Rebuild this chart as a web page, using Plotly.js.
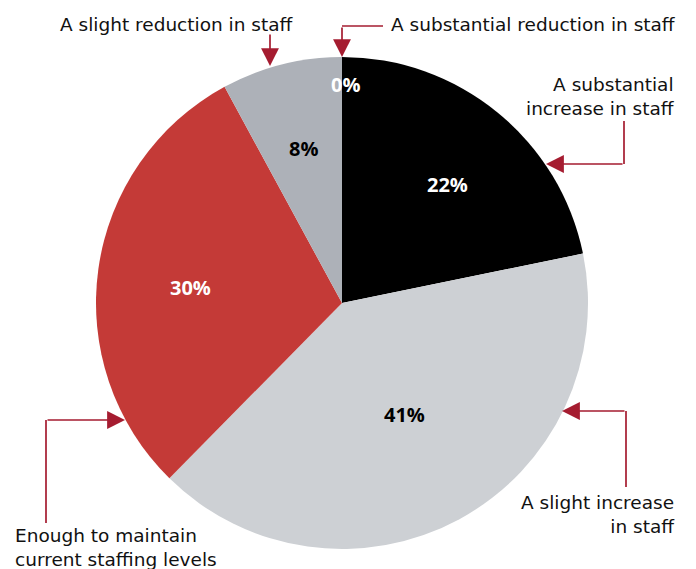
<!DOCTYPE html>
<html>
<head>
<meta charset="utf-8">
<script src="https://cdn.plot.ly/plotly-3.0.1.min.js"></script>
<style>html,body{margin:0;padding:0;background:#fff;}#chart{width:696px;height:569px;}</style>
</head>
<body>
<div id="chart"></div>
<script>
const categories = ["A substantial increase in staff", "A slight increase in staff", "Enough to maintain current staffing levels", "A slight reduction in staff", "A substantial reduction in staff"];
const values = [22, 41, 30, 8, 0];
const valueLabels = ["22%", "41%", "30%", "8%", "0%"];
const displayNames = ["A substantial<br>increase in staff", "A slight increase<br>in staff", "Enough to maintain<br>current staffing levels", "A slight reduction in staff", "A substantial reduction in staff"];
const colors = ["#000000", "#cdd0d4", "#c43a37", "#adb1b8", "#8f939a"];
const textColors = ["#ffffff", "#000000", "#ffffff", "#000000", "#ffffff"];

const W = 696, H = 569;
const px = (x) => x / W;
const py = (y) => 1 - y / H;

const FONT = "DejaVu Sans, sans-serif";
const PFONT = "Open Sans, sans-serif";
const LINE = "#a51c30";

// percentage label positions (pixel)
const pctPos = [[447,184],[404,414],[190,287],[303,148],[345,84]];
// category label positions: [x, y, xanchor, align]
const labPos = [[677,96,"right","right"],[677,514,"right","right"],[13,547,"left","left"],[58,24,"left","left"],[389,24,"left","left"]];
// leader paths: list of points; last segment gets arrowhead
const leaders = [
  [[624,121],[624,164],[546,164]],
  [[626,487],[626,411],[562,411]],
  [[46,523],[46,420],[125,420]],
  [[270,33],[270,66]],
  [[383,26],[342,26],[342,57]]
];

const annotations = [];
const shapes = [];
values.forEach((v, i) => {
  annotations.push({
    x: px(pctPos[i][0]), y: py(pctPos[i][1]), xref: "paper", yref: "paper",
    text: "<b>" + valueLabels[i] + "</b>", showarrow: false,
    font: {family: PFONT, size: 20, color: textColors[i]}, xanchor: "center", yanchor: "middle"
  });
  annotations.push({
    x: px(labPos[i][0]), y: py(labPos[i][1]), xref: "paper", yref: "paper",
    text: displayNames[i], showarrow: false, align: labPos[i][3],
    font: {family: FONT, size: 18.5, color: "#111111"}, xanchor: labPos[i][2], yanchor: "middle"
  });
  const pts = leaders[i];
  if (pts.length > 2) {
    let d = "M " + px(pts[0][0]) + " " + py(pts[0][1]);
    for (let k = 1; k < pts.length - 1; k++) d += " L " + px(pts[k][0]) + " " + py(pts[k][1]);
    shapes.push({type: "path", xref: "paper", yref: "paper", path: d, line: {color: LINE, width: 1.7}});
  }
  const a = pts[pts.length - 2], b = pts[pts.length - 1];
  annotations.push({
    x: px(b[0]), y: py(b[1]), xref: "paper", yref: "paper",
    ax: a[0] - b[0], ay: a[1] - b[1], axref: "pixel", ayref: "pixel",
    text: "", showarrow: true, arrowhead: 2, arrowsize: 2.1, arrowwidth: 1.7, arrowcolor: LINE, standoff: 0
  });
});

const data = [{
  type: "pie",
  labels: categories,
  values: values,
  sort: false,
  direction: "clockwise",
  rotation: 0,
  marker: {colors: colors, line: {width: 0}},
  textinfo: "none",
  hoverinfo: "label+percent",
  showlegend: false,
  domain: {x: [px(96), px(588)], y: [py(549), py(57)]}
}];

const layout = {
  width: W, height: H,
  margin: {l: 0, r: 0, t: 0, b: 0},
  paper_bgcolor: "#ffffff",
  showlegend: false,
  annotations: annotations,
  shapes: shapes
};

Plotly.newPlot("chart", data, layout, {displayModeBar: false, staticPlot: true});
</script>
</body>
</html>
